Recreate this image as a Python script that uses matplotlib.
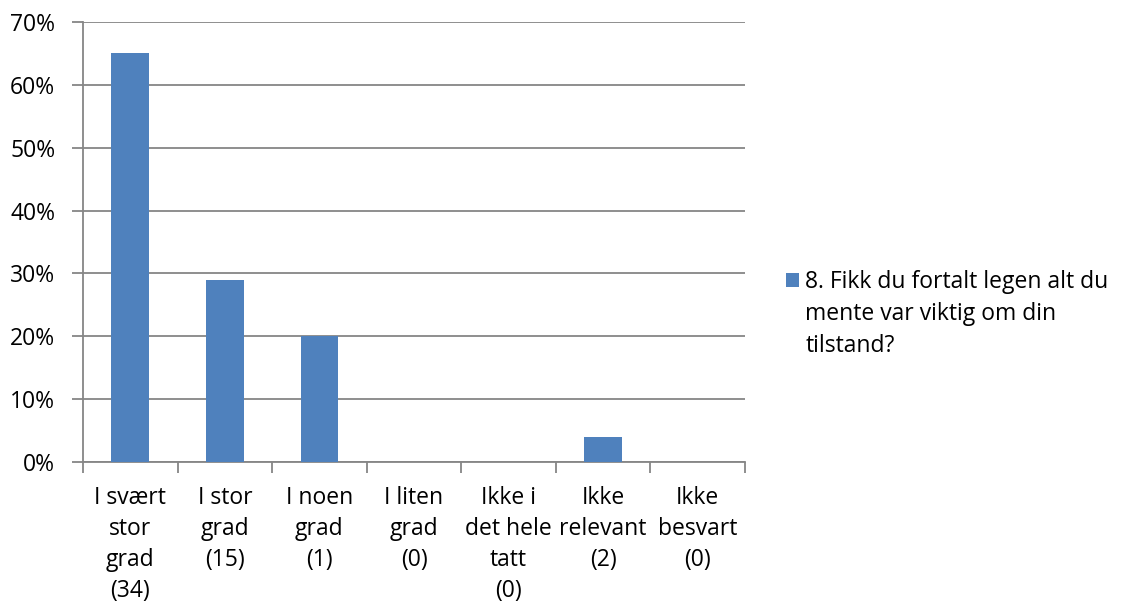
import matplotlib
matplotlib.use("Agg")
import matplotlib.pyplot as plt
from matplotlib.ticker import FuncFormatter
from matplotlib.patches import Patch

categories = ["I svært\nstor\ngrad\n(34)", "I stor\ngrad\n(15)", "I noen\ngrad\n(1)", "I liten\ngrad\n(0)",
              "Ikke i\ndet hele\ntatt\n(0)", "Ikke\nrelevant\n(2)", "Ikke\nbesvart\n(0)"]
values = [0.65, 0.29, 0.20, 0.0, 0.0, 0.04, 0.0]
yticks = [0, 0.1, 0.2, 0.3, 0.4, 0.5, 0.6, 0.7]
series_lines = ["8. Fikk du fortalt legen alt du", "mente var viktig om din", "tilstand?"]

plt.rcParams['font.family'] = ['Open Sans', 'DejaVu Sans']
bar_color = "#4F81BD"
grid_color = "#868686"
fs = 16.5
ls = 1.4

fig = plt.figure(figsize=(11.25, 6.07), dpi=100)
ax = fig.add_axes([83/1125, 1-462/607, (745-83)/1125, (462-22)/607])

x = list(range(len(categories)))
ax.bar(x, values, width=0.4, color=bar_color, zorder=3)
ax.set_xlim(-0.5, len(categories)-0.5)
ax.set_ylim(0, 0.7)
ax.set_yticks(yticks)
ax.yaxis.set_major_formatter(FuncFormatter(lambda v, p: f"{v*100:.0f}%"))
ax.grid(axis='y', color=grid_color, linewidth=1.3, zorder=0)

ax.set_xticks([i + 0.5 for i in range(-1, len(categories))])
ax.set_xticklabels([])
ax.set_xticks(x, minor=True)
ax.set_xticklabels(categories, minor=True, fontsize=fs, linespacing=ls, va='top')
ax.tick_params(axis='x', which='minor', length=0, pad=17)
ax.tick_params(axis='x', which='major', length=8, color=grid_color, width=1.3, direction='out')
ax.tick_params(axis='y', length=8, color=grid_color, width=1.3, labelsize=fs, pad=12)

for s in ['top', 'right']:
    ax.spines[s].set_visible(False)
for s in ['left', 'bottom']:
    ax.spines[s].set_color(grid_color)
    ax.spines[s].set_linewidth(1.3)

handle = Patch(facecolor=bar_color, edgecolor='none')
leg = fig.legend([handle], [series_lines[0]], loc='upper left', bbox_to_anchor=(786/1125, 1-270/607),
                 frameon=False, fontsize=fs, handlelength=0.55, handleheight=0.55,
                 handletextpad=0.3, borderpad=0, borderaxespad=0)
fig.canvas.draw()
r = fig.canvas.get_renderer()
bb = leg.get_texts()[0].get_window_extent(r)
fig.text(bb.x0/1125, bb.y0/607 - 8/607, "\n".join(series_lines[1:]), fontsize=fs,
         linespacing=1.45, va='top', ha='left')

fig.savefig("out.png", dpi=100)
